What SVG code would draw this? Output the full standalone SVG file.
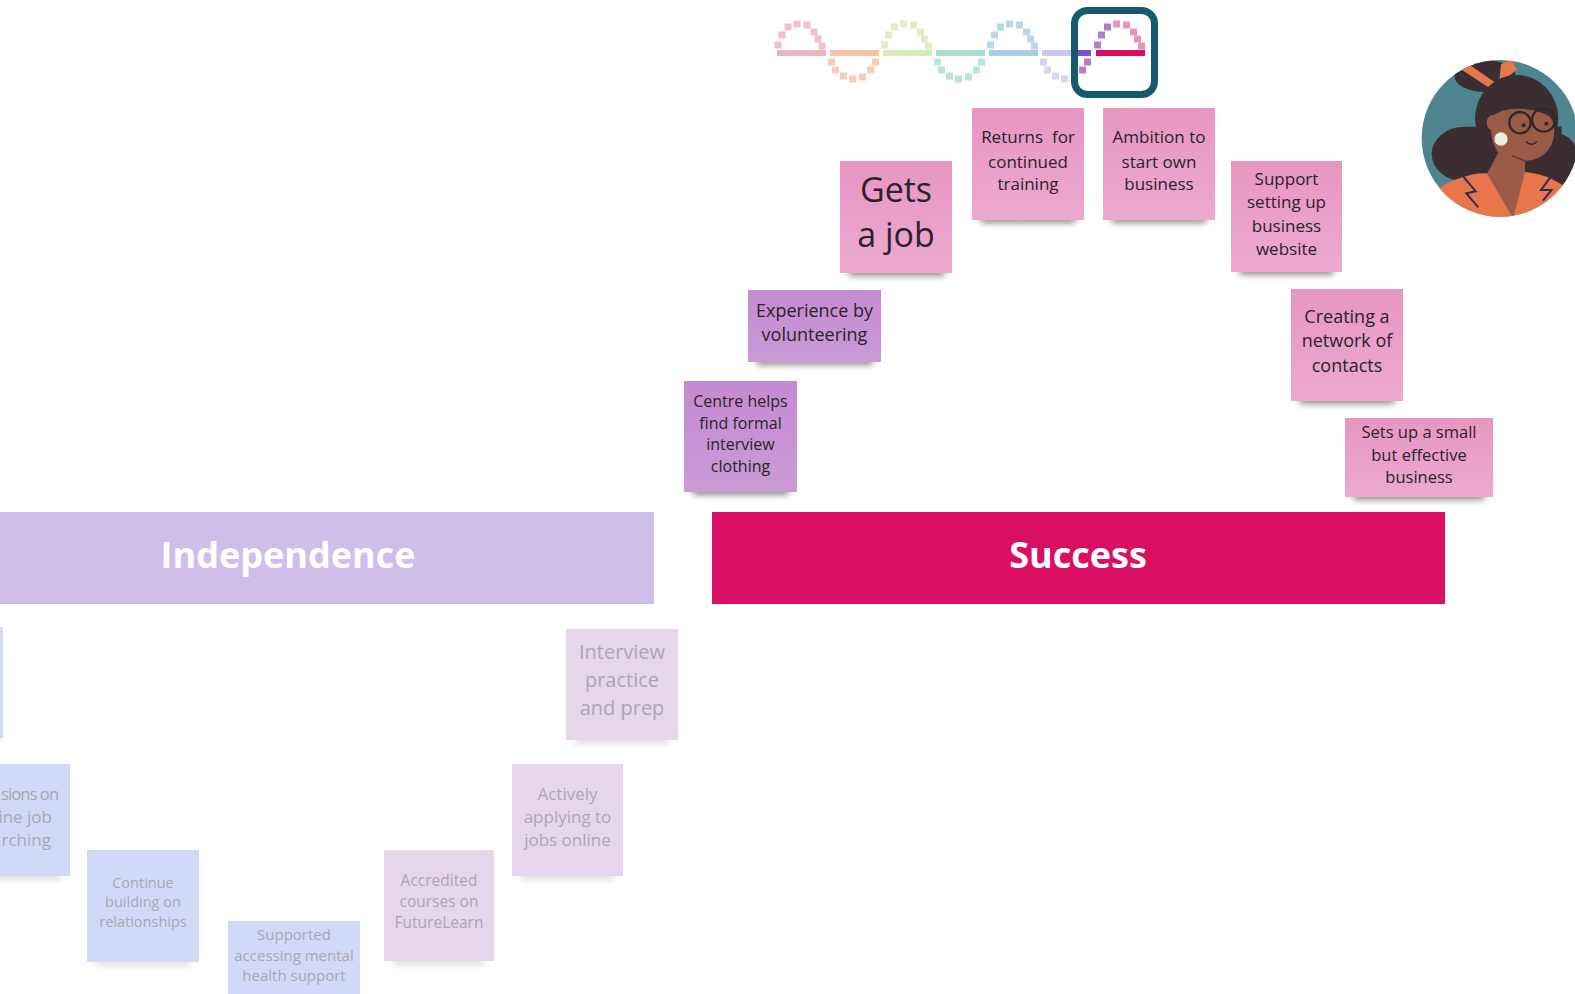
<svg xmlns="http://www.w3.org/2000/svg" width="1575" height="994" viewBox="0 0 1575 994">
  <defs>
    <linearGradient id="gPink" x1="0" y1="0" x2="0" y2="1">
      <stop offset="0" stop-color="#e796c2"/>
      <stop offset="1" stop-color="#eca9ce"/>
    </linearGradient>
    <linearGradient id="gPurple" x1="0" y1="0" x2="0" y2="1">
      <stop offset="0" stop-color="#c58bd1"/>
      <stop offset="1" stop-color="#c99ad6"/>
    </linearGradient>
    <filter id="blurShadow" x="-20%" y="-200%" width="140%" height="500%">
      <feGaussianBlur stdDeviation="3"/>
    </filter>
    <filter id="soft" x="-5%" y="-5%" width="110%" height="110%">
      <feGaussianBlur stdDeviation="0.5"/>
    </filter>
    <clipPath id="avatarClip">
      <circle cx="285" cy="265" r="235"/>
    </clipPath>
    <style>
      .note-text { font-family: "Open Sans", "Noto Sans", sans-serif; fill: #2b2328; text-anchor: middle; }
      .faded-text { font-family: "Open Sans", "Noto Sans", sans-serif; fill: #a9a6b3; text-anchor: middle; }
      .banner-text { font-family: "Open Sans", "Noto Sans", sans-serif; font-weight: 700; fill: #ffffff; text-anchor: middle; }
      .pink { fill: url(#gPink); }
      .purple { fill: url(#gPurple); }
      .fblue { fill: #d2d9f8; }
      .fpurple { fill: #e6d6ec; }
      .shadow { fill: #000; opacity: 0.45; filter: url(#blurShadow); }
      .shadow-faint { fill: #000; opacity: 0.12; filter: url(#blurShadow); }
    </style>
  </defs>

  <rect x="0" y="0" width="1575" height="994" fill="#ffffff"/>

  <!-- overview strip of the whole journey -->
  <g id="overview" filter="url(#soft)">
    <rect x="777" y="50" width="49" height="6" fill="#efb3c0"/>
    <rect x="830" y="50" width="49" height="6" fill="#f7c3a6"/>
    <rect x="883" y="50" width="49" height="6" fill="#d8ecb8"/>
    <rect x="936" y="50" width="49" height="6" fill="#a9e0cf"/>
    <rect x="989" y="50" width="49" height="6" fill="#aacde0"/>
    <rect x="1042" y="50" width="36" height="6" fill="#d3c5f1"/>
    <rect x="1078" y="50" width="13" height="6" fill="#7c4fd9"/>
    <rect x="1096" y="50" width="49" height="6" fill="#d80f62"/>
    <g fill="#f1c0cc">
      <rect x="774.5" y="41.5" width="7" height="7"/><rect x="778.5" y="31.5" width="7" height="7"/>
      <rect x="784.5" y="23.5" width="7" height="7"/><rect x="793.5" y="20.5" width="7" height="7"/>
      <rect x="803.5" y="21.5" width="7" height="7"/><rect x="810.5" y="28.5" width="7" height="7"/>
      <rect x="814.5" y="35.5" width="7" height="7"/><rect x="818.5" y="42.5" width="7" height="7"/>
    </g>
    <g fill="#f8cdb5">
      <rect x="828" y="58.5" width="7" height="7"/><rect x="832" y="66.5" width="7" height="7"/>
      <rect x="840" y="72.5" width="7" height="7"/><rect x="849" y="75.5" width="7" height="7"/>
      <rect x="859" y="73.5" width="7" height="7"/><rect x="867" y="66.5" width="7" height="7"/>
      <rect x="872" y="58.5" width="7" height="7"/>
    </g>
    <g fill="#dfeec6">
      <rect x="881" y="41.5" width="7" height="7"/><rect x="885" y="31.5" width="7" height="7"/>
      <rect x="891" y="23.5" width="7" height="7"/><rect x="900" y="20.5" width="7" height="7"/>
      <rect x="910" y="21.5" width="7" height="7"/><rect x="917" y="28.5" width="7" height="7"/>
      <rect x="921" y="35.5" width="7" height="7"/><rect x="925" y="42.5" width="7" height="7"/>
    </g>
    <g fill="#b8e6d8">
      <rect x="934" y="58.5" width="7" height="7"/><rect x="938" y="66.5" width="7" height="7"/>
      <rect x="946" y="72.5" width="7" height="7"/><rect x="955" y="75.5" width="7" height="7"/>
      <rect x="965" y="73.5" width="7" height="7"/><rect x="973" y="66.5" width="7" height="7"/>
      <rect x="978" y="58.5" width="7" height="7"/>
    </g>
    <g fill="#b9d7e6">
      <rect x="987" y="41.5" width="7" height="7"/><rect x="991" y="31.5" width="7" height="7"/>
      <rect x="997" y="23.5" width="7" height="7"/><rect x="1006" y="20.5" width="7" height="7"/>
      <rect x="1016" y="21.5" width="7" height="7"/><rect x="1023" y="28.5" width="7" height="7"/>
      <rect x="1027" y="35.5" width="7" height="7"/><rect x="1031" y="42.5" width="7" height="7"/>
    </g>
    <g fill="#d9d3f5">
      <rect x="1040" y="58.5" width="7" height="7"/><rect x="1044" y="66.5" width="7" height="7"/>
      <rect x="1052" y="72.5" width="7" height="7"/><rect x="1061" y="75.5" width="7" height="7"/>
      <rect x="1071" y="73.5" width="7" height="7"/>
    </g>
    <g fill="#b77cc9">
      <rect x="1079" y="66.5" width="7" height="7"/><rect x="1084" y="58.5" width="7" height="7"/>
      <rect x="1094" y="41.5" width="7" height="7"/><rect x="1098" y="31.5" width="7" height="7"/>
      <rect x="1104" y="23.5" width="7" height="7"/>
    </g>
    <g fill="#e596c0">
      <rect x="1113" y="20.5" width="7" height="7"/><rect x="1123" y="21.5" width="7" height="7"/>
      <rect x="1130" y="28.5" width="7" height="7"/><rect x="1134" y="35.5" width="7" height="7"/>
      <rect x="1138" y="42.5" width="7" height="7"/>
    </g>
    <rect x="1074.5" y="10.5" width="80" height="84" rx="13" fill="none" stroke="#175a70" stroke-width="7"/>
  </g>

  <!-- avatar -->
  <g id="avatar" transform="translate(1405,50) scale(0.3333)">
    <g clip-path="url(#avatarClip)">
      <rect x="0" y="0" width="600" height="600" fill="#4f8491"/>
      <!-- hair bun and ribbon -->
      <ellipse cx="240" cy="78" rx="92" ry="48" fill="#3a2e33"/>
      <polygon points="168,58 190,42 272,98 250,112" fill="#e8764a"/>
      <polygon points="288,42 318,30 336,58 282,104" fill="#e8764a"/>
      <!-- hair mass -->
      <ellipse cx="335" cy="205" rx="125" ry="130" fill="#3a2e33"/>
      <ellipse cx="178" cy="312" rx="98" ry="82" fill="#3a2e33"/>
      <ellipse cx="452" cy="330" rx="70" ry="80" fill="#3a2e33"/>
      <rect x="190" y="230" width="280" height="150" fill="#3a2e33"/>
      <!-- neck and face -->
      <polygon points="285,300 360,300 360,380 325,505 245,372" fill="#9b5a45"/>
      <path d="M258,205 C272,182 320,172 372,174 C422,177 448,202 448,240 C448,290 420,320 382,330 L332,336 L292,320 C266,300 255,262 258,205 Z" fill="#9b5a45"/>
      <ellipse cx="265" cy="218" rx="20" ry="24" fill="#9b5a45"/>
      <!-- fringe -->
      <path d="M300,178 C330,150 400,140 448,175 L452,215 C430,190 380,170 300,178 Z" fill="#3a2e33"/>
      <!-- shirt -->
      <path d="M60,520 L80,430 C130,390 200,368 245,370 L325,505 Z" fill="#e8764a"/>
      <path d="M360,366 C420,370 470,400 500,425 L520,520 L325,505 Z" fill="#e8764a"/>
      <polyline points="172,376 212,424 184,430 220,472" fill="none" stroke="#2f2a5c" stroke-width="6" stroke-linejoin="miter"/>
      <polyline points="436,382 408,420 440,420 414,452" fill="none" stroke="#2f2a5c" stroke-width="6" stroke-linejoin="miter"/>
      <!-- earring -->
      <circle cx="288" cy="267" r="20" fill="#f1ebe1"/>
      <!-- glasses -->
      <circle cx="345" cy="218" r="32" fill="none" stroke="#2e2a2c" stroke-width="7"/>
      <circle cx="416" cy="210" r="35" fill="none" stroke="#2e2a2c" stroke-width="7"/>
      <line x1="377" y1="214" x2="381" y2="213" stroke="#2e2a2c" stroke-width="7"/>
      <circle cx="356" cy="226" r="6" fill="#2e2a2c"/>
      <circle cx="424" cy="221" r="6" fill="#2e2a2c"/>
      <!-- smile and jaw -->
      <path d="M365,276 Q380,290 394,276" fill="none" stroke="#2e2a2c" stroke-width="5" stroke-linecap="round"/>
      <path d="M322,318 Q340,324 358,332" fill="none" stroke="#6a3326" stroke-width="4" stroke-linecap="round"/>
    </g>
  </g>

  <!-- stage banners -->
  <g id="banner-independence">
    <rect x="-78" y="512" width="732" height="92" fill="#cfbdea"/>
    <text class="banner-text" x="288" y="568" font-size="36">Independence</text>
  </g>
  <g id="banner-success">
    <rect x="712" y="512" width="733" height="92" fill="#d80f62"/>
    <text class="banner-text" x="1078" y="568" font-size="36">Success</text>
  </g>

  <!-- success stage notes -->
  <g id="note-centre">
    <rect class="shadow" x="692" y="487" width="97" height="8" rx="4"/>
    <rect class="purple" x="684" y="381" width="113" height="111"/>
    <text class="note-text" font-size="16" x="740.5"><tspan x="740.5" y="407">Centre helps</tspan><tspan x="740.5" y="429">find formal</tspan><tspan x="740.5" y="450">interview</tspan><tspan x="740.5" y="472">clothing</tspan></text>
  </g>
  <g id="note-experience">
    <rect class="shadow" x="756" y="357" width="117" height="8" rx="4"/>
    <rect class="purple" x="748" y="290" width="133" height="72"/>
    <text class="note-text" font-size="18" x="814.5"><tspan x="814.5" y="317">Experience by</tspan><tspan x="814.5" y="341">volunteering</tspan></text>
  </g>
  <g id="note-gets-job">
    <rect class="shadow" x="848" y="268" width="97" height="8" rx="4"/>
    <rect class="pink" x="840" y="161" width="112" height="112"/>
    <text class="note-text" font-size="34" x="896"><tspan x="896" y="202">Gets</tspan><tspan x="896" y="247">a job</tspan></text>
  </g>
  <g id="note-returns">
    <rect class="shadow" x="980" y="215" width="96" height="8" rx="4"/>
    <rect class="pink" x="972" y="108" width="112" height="112"/>
    <text class="note-text" font-size="17" x="1028" xml:space="preserve"><tspan x="1028" y="143">Returns  for</tspan><tspan x="1028" y="168">continued</tspan><tspan x="1028" y="190">training</tspan></text>
  </g>
  <g id="note-ambition">
    <rect class="shadow" x="1111" y="215" width="96" height="8" rx="4"/>
    <rect class="pink" x="1103" y="108" width="112" height="112"/>
    <text class="note-text" font-size="17" x="1159"><tspan x="1159" y="143">Ambition to</tspan><tspan x="1159" y="168">start own</tspan><tspan x="1159" y="190">business</tspan></text>
  </g>
  <g id="note-website">
    <rect class="shadow" x="1239" y="267" width="95" height="8" rx="4"/>
    <rect class="pink" x="1231" y="161" width="111" height="111"/>
    <text class="note-text" font-size="17" x="1286.5"><tspan x="1286.5" y="185">Support</tspan><tspan x="1286.5" y="208">setting up</tspan><tspan x="1286.5" y="232">business</tspan><tspan x="1286.5" y="255">website</tspan></text>
  </g>
  <g id="note-network">
    <rect class="shadow" x="1299" y="396" width="96" height="8" rx="4"/>
    <rect class="pink" x="1291" y="289" width="112" height="112"/>
    <text class="note-text" font-size="18" x="1347"><tspan x="1347" y="323">Creating a</tspan><tspan x="1347" y="347">network of</tspan><tspan x="1347" y="372">contacts</tspan></text>
  </g>
  <g id="note-small-business">
    <rect class="shadow" x="1353" y="492" width="132" height="8" rx="4"/>
    <rect class="pink" x="1345" y="418" width="148" height="79"/>
    <text class="note-text" font-size="16.5" x="1419"><tspan x="1419" y="438">Sets up a small</tspan><tspan x="1419" y="461">but effective</tspan><tspan x="1419" y="483">business</tspan></text>
  </g>

  <!-- independence stage notes (faded) -->
  <g id="note-edge">
    <rect class="shadow-faint" x="-90" y="734" width="90" height="8" rx="4"/>
    <rect class="fblue" x="-100" y="627" width="103" height="111"/>
  </g>
  <g id="note-job-search">
    <rect class="shadow-faint" x="-36" y="872" width="98" height="8" rx="4"/>
    <rect class="fblue" x="-45" y="764" width="115" height="112"/>
    <text class="faded-text" font-size="16.5" x="1" y="800" textLength="58" lengthAdjust="spacing" style="text-anchor:start">sions on</text>
    <text class="faded-text" font-size="17" style="text-anchor:end"><tspan x="52" y="823">ine job</tspan><tspan x="51" y="846">rching</tspan></text>
  </g>
  <g id="note-relationships">
    <rect class="shadow-faint" x="95" y="958" width="96" height="8" rx="4"/>
    <rect class="fblue" x="87" y="850" width="112" height="112"/>
    <text class="faded-text" font-size="14.5" x="143"><tspan x="143" y="888">Continue</tspan><tspan x="143" y="907">building on</tspan><tspan x="143" y="927">relationships</tspan></text>
  </g>
  <g id="note-mental-health">
    <rect class="fblue" x="228" y="921" width="132" height="75"/>
    <text class="faded-text" font-size="15" x="294"><tspan x="294" y="940">Supported</tspan><tspan x="294" y="961">accessing mental</tspan><tspan x="294" y="981">health support</tspan></text>
  </g>
  <g id="note-futurelearn">
    <rect class="shadow-faint" x="392" y="957" width="94" height="8" rx="4"/>
    <rect class="fpurple" x="384" y="850" width="110" height="111"/>
    <text class="faded-text" font-size="15.5" x="439"><tspan x="439" y="886">Accredited</tspan><tspan x="439" y="907">courses on</tspan><tspan x="439" y="928">FutureLearn</tspan></text>
  </g>
  <g id="note-applying">
    <rect class="shadow-faint" x="520" y="872" width="95" height="8" rx="4"/>
    <rect class="fpurple" x="512" y="764" width="111" height="112"/>
    <text class="faded-text" font-size="17" x="567.5"><tspan x="567.5" y="800">Actively</tspan><tspan x="567.5" y="823">applying to</tspan><tspan x="567.5" y="846">jobs online</tspan></text>
  </g>
  <g id="note-interview">
    <rect class="shadow-faint" x="574" y="736" width="96" height="8" rx="4"/>
    <rect class="fpurple" x="566" y="629" width="112" height="111"/>
    <text class="faded-text" font-size="20" x="622"><tspan x="622" y="659">Interview</tspan><tspan x="622" y="687">practice</tspan><tspan x="622" y="715">and prep</tspan></text>
  </g>

  <!-- the stage notes stand alone; the journey has no drawn links -->
  <g id="connectors"/>
</svg>
